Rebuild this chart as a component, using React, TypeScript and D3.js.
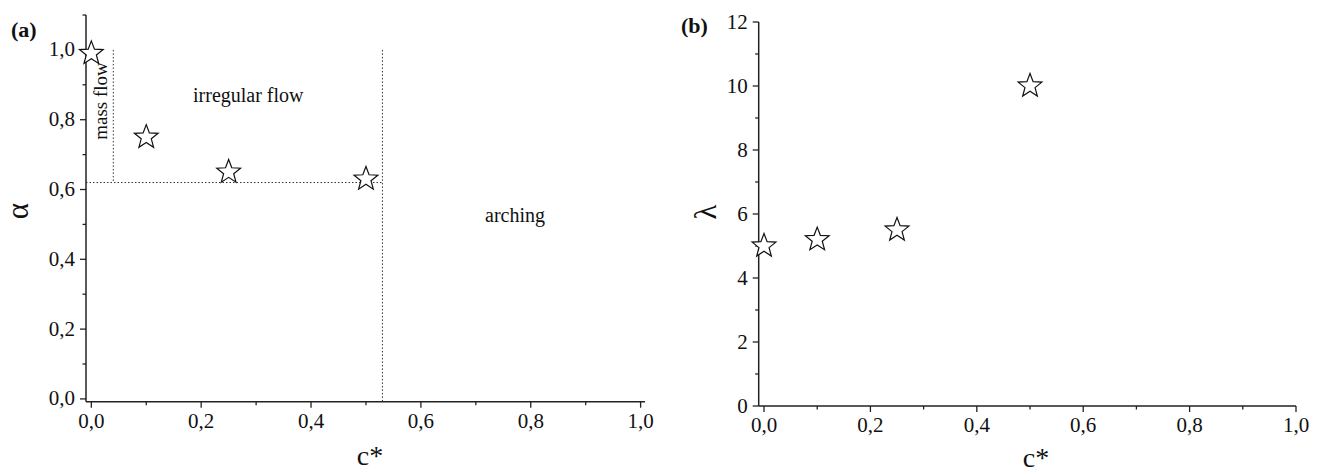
import React from "react";
import * as d3 from "d3";

const cStarA = [0, 0.1, 0.25, 0.5];
const alphaA = [0.99, 0.75, 0.65, 0.63];
const cStarB = [0, 0.1, 0.25, 0.5];
const lambdaB = [5.0, 5.2, 5.5, 10.0];

const xTicks = [0, 0.2, 0.4, 0.6, 0.8, 1.0];
const xMinor = [0.1, 0.3, 0.5, 0.7, 0.9];
const yTicksA = [0, 0.2, 0.4, 0.6, 0.8, 1.0];
const yMinorA = [0.1, 0.3, 0.5, 0.7, 0.9, 1.1];
const yTicksB = [0, 2, 4, 6, 8, 10, 12];
const yMinorB = [1, 3, 5, 7, 9, 11];

// regime boundaries in panel (a)
const massFlowC = 0.04;
const archingC = 0.53;
const alphaBoundary = 0.62;

const FONT = "'Liberation Serif', 'Times New Roman', serif";
const fmt = (v: number) => v.toFixed(1).replace(".", ",");

function starPath(R: number, r: number) {
  const pts: [number, number][] = [];
  for (let i = 0; i < 10; i++) {
    const ang = (i * Math.PI) / 5;
    pts.push([ang, i % 2 === 0 ? R : r]);
  }
  return d3.lineRadial().curve(d3.curveLinearClosed)(pts) as string;
}
const STAR = starPath(12.5, 5.3);

type AxisProps = {
  x: d3.ScaleLinear<number, number>;
  y: d3.ScaleLinear<number, number>;
  xTicks: number[];
  xMinor: number[];
  yTicks: number[];
  yMinor: number[];
  yFmt: (v: number) => string;
};

function Axes({ x, y, xTicks, xMinor, yTicks, yMinor, yFmt }: AxisProps) {
  const [x0, x1] = x.range();
  const [y0, y1] = y.range();
  const col = "#222";
  return (
    <g>
      <line x1={x0} x2={x1} y1={y0} y2={y0} stroke={col} strokeWidth={1.5} />
      <line x1={x0} x2={x0} y1={y0} y2={y1} stroke={col} strokeWidth={1.5} />
      {xTicks.map((t) => (
        <g key={"xt" + t}>
          <line x1={x(t)} x2={x(t)} y1={y0} y2={y0 + 6} stroke={col} strokeWidth={1.3} />
          <text x={x(t)} y={y0 + 26} textAnchor="middle" fontSize={21} fontFamily={FONT} fill="#111">
            {fmt(t)}
          </text>
        </g>
      ))}
      {xMinor.map((t) => (
        <line key={"xm" + t} x1={x(t)} x2={x(t)} y1={y0} y2={y0 + 3.5} stroke={col} strokeWidth={1.3} />
      ))}
      {yTicks.map((t) => (
        <g key={"yt" + t}>
          <line x1={x0} x2={x0 - 6} y1={y(t)} y2={y(t)} stroke={col} strokeWidth={1.3} />
          <text x={x0 - 11} y={y(t) + 6.5} textAnchor="end" fontSize={21} fontFamily={FONT} fill="#111">
            {yFmt(t)}
          </text>
        </g>
      ))}
      {yMinor.map((t) => (
        <line key={"ym" + t} x1={x0} x2={x0 - 3.5} y1={y(t)} y2={y(t)} stroke={col} strokeWidth={1.3} />
      ))}
    </g>
  );
}

export default function App() {
  const xA = d3.scaleLinear().domain([-0.0097, 1.008]).range([86, 645]);
  const yA = d3.scaleLinear().domain([-0.008, 1.1]).range([401.7, 15]);
  const xB = d3.scaleLinear().domain([-0.01, 1.0]).range([758.7, 1296]);
  const yB = d3.scaleLinear().domain([0, 12]).range([406, 22]);

  return (
    <svg width={1322} height={475} style={{ position: "absolute", left: 0, top: 0, background: "#fff" }}>
      {/* Panel (a) */}
      <text x={11} y={37} fontSize={22} fontWeight="bold" fontFamily={FONT} fill="#111">(a)</text>
      {/* dotted regime boundaries */}
      <line x1={xA(massFlowC)} x2={xA(massFlowC)} y1={yA(1.0)} y2={yA(alphaBoundary)} stroke="#333" strokeWidth={1} strokeDasharray="1.5,2" />
      <line x1={xA.range()[0]} x2={xA(archingC)} y1={yA(alphaBoundary)} y2={yA(alphaBoundary)} stroke="#333" strokeWidth={1} strokeDasharray="1.5,2" />
      <line x1={xA(archingC)} x2={xA(archingC)} y1={yA(1.0)} y2={yA(-0.008)} stroke="#333" strokeWidth={1} strokeDasharray="1.5,2" />
      <Axes x={xA} y={yA} xTicks={xTicks} xMinor={xMinor} yTicks={yTicksA} yMinor={yMinorA} yFmt={fmt} />
      <text x={193} y={102} fontSize={20} fontFamily={FONT} fill="#111">irregular flow</text>
      <text x={485} y={222} fontSize={20} fontFamily={FONT} fill="#111">arching</text>
      <text transform="translate(107,101) rotate(-90)" textAnchor="middle" fontSize={19} fontFamily={FONT} fill="#111">mass flow</text>
      {cStarA.map((c, i) => (
        <path key={"sa" + i} d={STAR} transform={`translate(${xA(c)},${yA(alphaA[i])})`} fill="#fff" stroke="#111" strokeWidth={1.2} />
      ))}
      <text transform="translate(28,211) rotate(-90)" textAnchor="middle" fontSize={31} fontFamily={FONT} fill="#111">α</text>
      <text x={370} y={465} textAnchor="middle" fontSize={28} fontFamily={FONT} fill="#111">c*</text>

      {/* Panel (b) */}
      <text x={681} y={33} fontSize={22} fontWeight="bold" fontFamily={FONT} fill="#111">(b)</text>
      <Axes x={xB} y={yB} xTicks={xTicks} xMinor={xMinor} yTicks={yTicksB} yMinor={yMinorB} yFmt={(v) => String(v)} />
      {cStarB.map((c, i) => (
        <path key={"sb" + i} d={STAR} transform={`translate(${xB(c)},${yB(lambdaB[i])})`} fill="#fff" stroke="#111" strokeWidth={1.2} />
      ))}
      <text transform="translate(716,212) rotate(-90)" textAnchor="middle" fontSize={31} fontFamily={FONT} fill="#111">λ</text>
      <text x={1036} y={467} textAnchor="middle" fontSize={28} fontFamily={FONT} fill="#111">c*</text>
    </svg>
  );
}
